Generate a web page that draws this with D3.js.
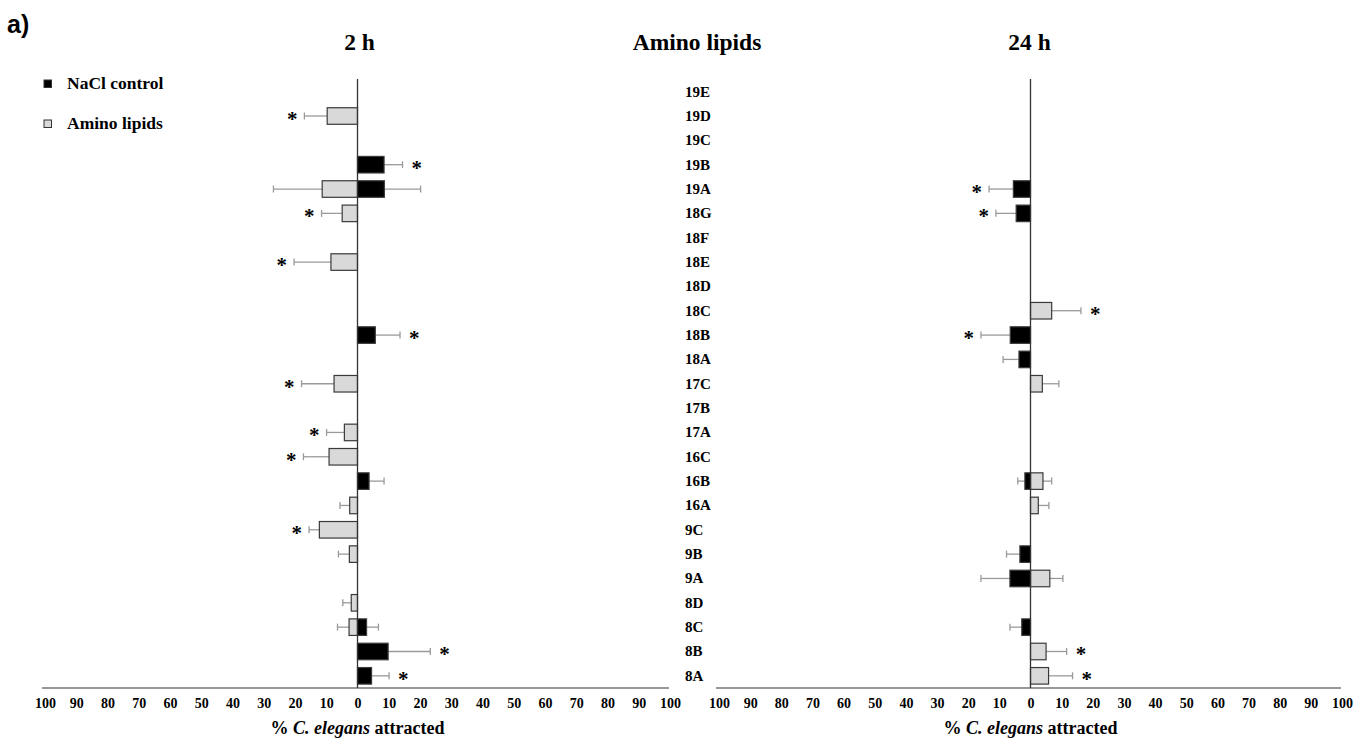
<!DOCTYPE html>
<html><head><meta charset="utf-8">
<script src="https://cdn.jsdelivr.net/npm/d3@7"></script>
<style>
html,body{margin:0;padding:0;background:#fff;}
svg text{font-family:"Liberation Serif","Times New Roman",serif;font-weight:bold;fill:#000;}
</style></head>
<body>
<svg id="chart" width="1368" height="742"></svg>
<script>
// ---- data ----
const categories = ["19E","19D","19C","19B","19A","18G","18F","18E","18D","18C","18B","18A","17C","17B","17A","16C","16B","16A","9C","9B","9A","8D","8C","8B","8A"];
const tickValues = [-100,-90,-80,-70,-60,-50,-40,-30,-20,-10,0,10,20,30,40,50,60,70,80,90,100];

// 2 h panel (null = no bar)
const nacl2h     = [null,null,null,8.5,8.6,null,null,null,null,null,5.7,null,null,null,null,null,3.7,null,null,null,null,null,2.9,9.8,4.5];
const nacl2hErr  = [null,null,null,5.9,11.6,null,null,null,null,null,7.9,null,null,null,null,null,4.8,null,null,null,null,null,3.8,13.5,5.6];
const amino2h    = [null,-9.7,null,null,-11.3,-4.9,null,-8.5,null,null,null,null,-7.5,null,-4.2,-9.1,null,-2.5,-12.2,-2.6,null,-2.0,-2.7,null,null];
const amino2hErr = [null,7.3,null,null,15.6,6.6,null,11.8,null,null,null,null,10.4,null,5.7,8.2,null,3.1,3.3,3.5,null,2.7,3.7,null,null];
const sigNacl2h  = ["19B","18B","8B","8A"];
const sigAmino2h = ["19D","18G","18E","17C","17A","16C","9C"];

// 24 h panel
const nacl24h     = [null,null,null,null,-5.5,-4.6,null,null,null,null,-6.5,-3.7,null,null,null,null,-1.8,null,null,-3.4,-6.6,null,-2.8,null,null];
const nacl24hErr  = [null,null,null,null,7.8,6.5,null,null,null,null,9.4,5.1,null,null,null,null,2.3,null,null,4.3,9.3,null,3.8,null,null];
const amino24h    = [null,null,null,null,null,null,null,null,null,6.8,null,null,3.8,null,null,null,4.0,2.5,null,null,6.2,null,null,5.0,5.8];
const amino24hErr = [null,null,null,null,null,null,null,null,null,9.4,null,null,5.3,null,null,null,2.8,3.4,null,null,4.2,null,null,6.6,7.7];
const sigNacl24h  = ["19A","18G","18B"];
const sigAmino24h = ["18C","8B","8A"];

const seriesNames = ["NaCl control","Amino lipids"];
const panelTitles = ["2 h","Amino lipids","24 h"];
const axisTitle = ["% ","C. elegans"," attracted"];

// ---- drawing ----
const svg = d3.select("#chart");
const colors = {nacl:"#000000", amino:"#d9d9d9"};

const y = d3.scaleBand().domain(categories).range([79.5, 688]).paddingInner(0.32).paddingOuter(0.16);

function panel(x0, x1, nacl, naclErr, amino, aminoErr, sigN, sigA){
  const x = d3.scaleLinear().domain([-100,100]).range([x0, x1]);
  const g = svg.append("g");
  // x axis
  const ax = g.append("g").attr("transform","translate(0,688)")
    .call(d3.axisBottom(x).tickValues(tickValues).tickFormat(d=>Math.abs(d)).tickSize(0).tickPadding(10));
  ax.select(".domain").attr("stroke","#333").attr("stroke-width",1.2).attr("d",`M${x0-3},0H${x1-1}`);
  ax.selectAll("text").style("font-family","'Liberation Serif',serif").style("font-weight","bold").style("font-size","14px").attr("fill","#000");
  // axis title
  const t = g.append("text").attr("x",x(0)).attr("y",734).attr("text-anchor","middle").style("font-size","18px");
  t.append("tspan").text(axisTitle[0]);
  t.append("tspan").text(axisTitle[1]).style("font-style","italic");
  t.append("tspan").text(axisTitle[2]);

  const bh = y.bandwidth();
  function drawSeries(vals, errs, sig, fill){
    categories.forEach((c,i)=>{
      const v = vals[i]; if(v==null) return;
      const e = errs[i];
      const cy = y(c) + bh/2;
      const end = v + Math.sign(v)*e;
      // error bar
      g.append("line").attr("x1",x(v)).attr("x2",x(end)).attr("y1",cy).attr("y2",cy).attr("stroke","#9a9a9a").attr("stroke-width",1.3);
      g.append("line").attr("x1",x(end)).attr("x2",x(end)).attr("y1",cy-3.5).attr("y2",cy+3.5).attr("stroke","#9a9a9a").attr("stroke-width",1.3);
      // bar
      g.append("rect").attr("x",Math.min(x(0),x(v))).attr("width",Math.abs(x(v)-x(0))).attr("y",y(c)).attr("height",bh)
        .attr("fill",fill).attr("stroke","#3a3a3a").attr("stroke-width",1.2);
      if(sig.includes(c)){
        const sx = v<0 ? x(end)-7 : x(end)+9;
        g.append("text").attr("x",sx).attr("y",cy+10).attr("text-anchor", v<0?"end":"start").style("font-size","21px").text("*");
      }
    });
  }
  drawSeries(amino, aminoErr, sigA, colors.amino);
  drawSeries(nacl, naclErr, sigN, colors.nacl);
  // vertical zero line
  g.append("line").attr("x1",x(0)).attr("x2",x(0)).attr("y1",79).attr("y2",688).attr("stroke","#333").attr("stroke-width",1.3);
  return x;
}

const xl = panel(45, 670, nacl2h, nacl2hErr, amino2h, amino2hErr, sigNacl2h, sigAmino2h);
const xr = panel(719, 1342, nacl24h, nacl24hErr, amino24h, amino24hErr, sigNacl24h, sigAmino24h);

// category labels
svg.append("g").selectAll("text").data(categories).join("text")
  .attr("x",685).attr("y",d=>y(d)+y.bandwidth()/2+5).style("font-size","15px").text(d=>d);

// titles
svg.append("text").attr("x",xl(0)+2).attr("y",50).attr("text-anchor","middle").style("font-size","23.5px").text(panelTitles[0]);
svg.append("text").attr("x",697).attr("y",50).attr("text-anchor","middle").style("font-size","23.5px").text(panelTitles[1]);
svg.append("text").attr("x",xr(0)-1).attr("y",50).attr("text-anchor","middle").style("font-size","23.5px").text(panelTitles[2]);

// panel label
svg.append("text").attr("x",7).attr("y",33).style("font-family","'Liberation Sans',Arial,sans-serif").style("font-size","25px").text("a)");

// legend
const leg = svg.append("g");
[["nacl",84],["amino",124]].forEach(([k,cy],i)=>{
  leg.append("rect").attr("x",44).attr("y",cy-4).attr("width",7.5).attr("height",7.5).attr("fill",colors[k]).attr("stroke","#333").attr("stroke-width",1);
  leg.append("text").attr("x",67).attr("y",cy+5).style("font-size","17.5px").text(seriesNames[i]);
});
</script>
</body></html>
